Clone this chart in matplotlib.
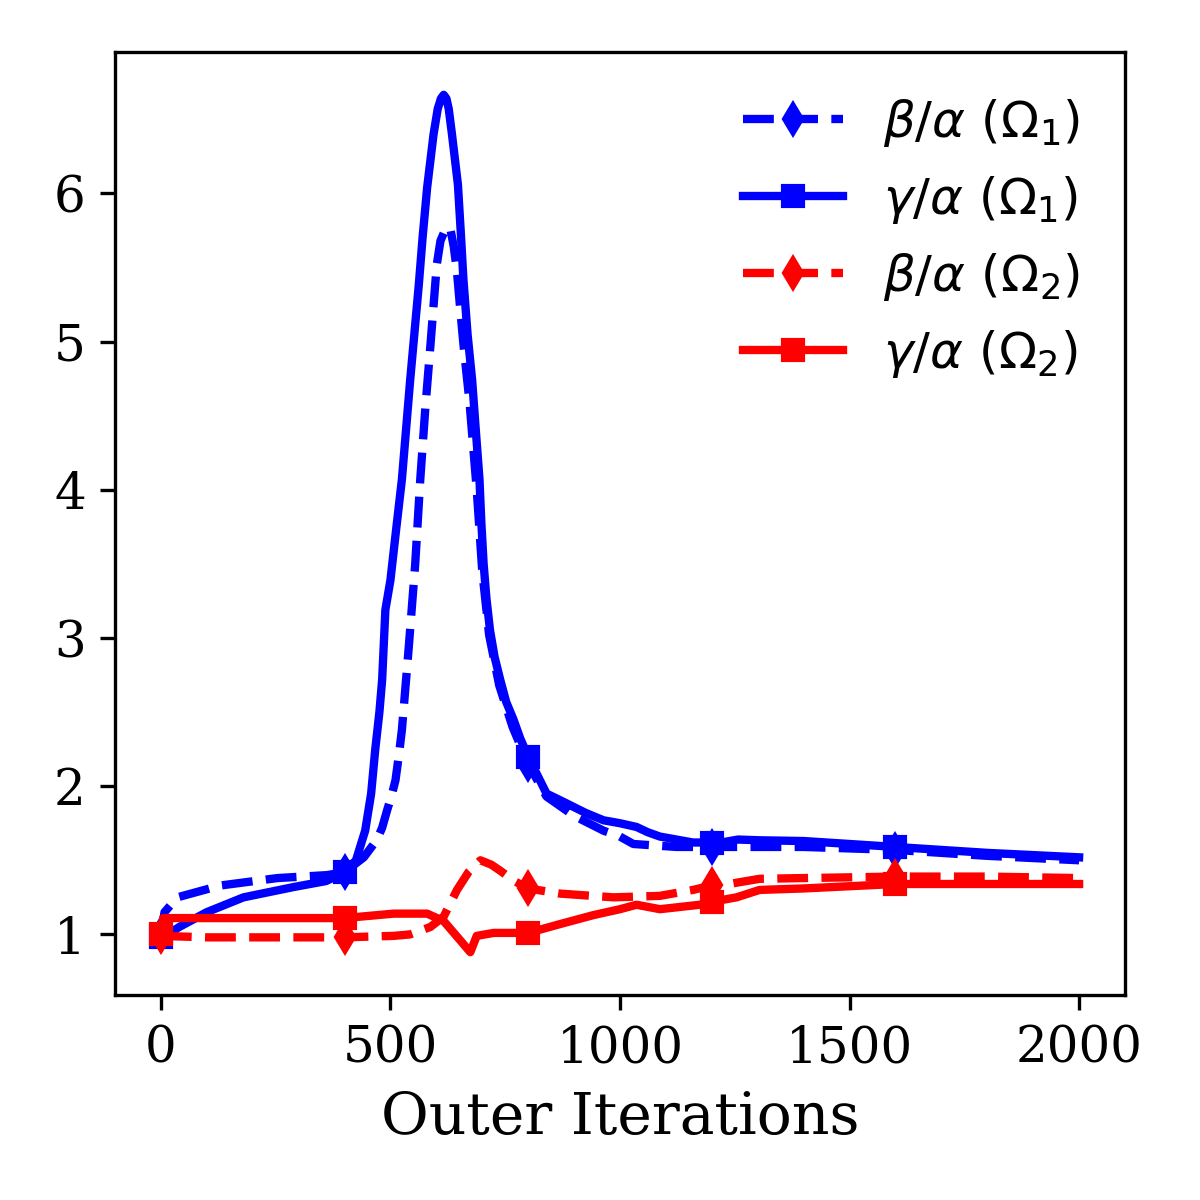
import numpy as np
import matplotlib
matplotlib.use("Agg")
import matplotlib.pyplot as plt

plt.rcParams["font.family"] = "serif"

# beta/alpha on Omega_1 (dashed, diamonds)
b1_x = [0, 8, 36, 130, 254, 362, 400, 442, 471, 482, 493, 502, 511, 518, 525,
        540, 554, 565, 576, 587, 601, 609, 620, 630, 638, 645, 652, 660, 672,
        688, 700, 715, 737, 766, 800, 840, 900, 964, 1000, 1029, 1123, 1200,
        1400, 1600, 1800, 2000]
b1_y = [1.0, 1.15, 1.25, 1.33, 1.38, 1.40, 1.42, 1.52, 1.64, 1.72, 1.84, 1.93,
        2.04, 2.2, 2.38, 2.94, 3.5, 4.07, 4.55, 4.97, 5.52, 5.68, 5.76, 5.77,
        5.64, 5.47, 5.22, 4.95, 4.6, 4.0, 3.45, 3.02, 2.68, 2.40, 2.15, 1.93,
        1.80, 1.70, 1.66, 1.61, 1.59, 1.59, 1.59, 1.57, 1.53, 1.50]

# gamma/alpha on Omega_1 (solid, squares)
g1_x = [0, 15, 40, 100, 180, 290, 360, 400, 425, 445, 458, 467, 476, 482, 489,
        500, 512, 525, 543, 562, 570, 580, 594, 603, 610, 616, 622, 627, 634,
        647, 653, 659, 668, 678, 686, 694, 698, 703, 709, 717, 727, 739, 752,
        768, 783, 800, 840, 870, 925, 964, 1000, 1036, 1060, 1087, 1159, 1200,
        1230, 1257, 1304, 1400, 1600, 1800, 2000]
g1_y = [0.98, 1.0, 1.05, 1.15, 1.25, 1.32, 1.36, 1.42, 1.50, 1.70, 1.95, 2.25,
        2.50, 2.72, 3.19, 3.39, 3.72, 4.07, 4.74, 5.39, 5.70, 6.04, 6.40, 6.57,
        6.64, 6.665, 6.64, 6.57, 6.40, 6.06, 5.75, 5.42, 5.05, 4.74, 4.40, 4.07,
        3.78, 3.5, 3.27, 3.05, 2.87, 2.72, 2.57, 2.45, 2.32, 2.2, 1.95, 1.905,
        1.82, 1.77, 1.75, 1.725, 1.69, 1.66, 1.62, 1.62, 1.625, 1.64, 1.635,
        1.63, 1.59, 1.55, 1.52]

# beta/alpha on Omega_2
b2_x = [0, 100, 300, 400, 507, 543, 587, 616, 645, 670, 696, 720, 739, 770,
        800, 870, 986, 1087, 1159, 1200, 1247, 1304, 1400, 1600, 1800, 2000]
b2_y = [0.99, 0.98, 0.98, 0.98, 0.99, 1.0, 1.05, 1.12, 1.30, 1.42, 1.50, 1.47,
        1.43, 1.36, 1.31, 1.275, 1.25, 1.26, 1.30, 1.33, 1.345, 1.375, 1.38,
        1.39, 1.39, 1.38]

# gamma/alpha on Omega_2
g2_x = [0, 5, 100, 400, 507, 580, 616, 652, 674, 688, 725, 800, 870, 942,
        1000, 1036, 1087, 1174, 1200, 1254, 1304, 1400, 1600, 1800, 2000]
g2_y = [1.0, 1.11, 1.11, 1.11, 1.14, 1.14, 1.09, 0.96, 0.88, 0.99, 1.01, 1.01,
        1.07, 1.13, 1.17, 1.20, 1.17, 1.20, 1.22, 1.25, 1.30, 1.31, 1.34, 1.34,
        1.34]

labels = [r"$\beta/\alpha\ (\Omega_1)$", r"$\gamma/\alpha\ (\Omega_1)$",
          r"$\beta/\alpha\ (\Omega_2)$", r"$\gamma/\alpha\ (\Omega_2)$"]


def marks(xs):
    return [i for i, v in enumerate(xs) if v % 400 == 0 and v < 2000]


fig = plt.figure(figsize=(4, 4), dpi=300)
ax = fig.add_axes([0.0958, 0.1708, 0.8417, 0.7859])

series = [
    (b1_x, b1_y, "b", "--", "d"),
    (g1_x, g1_y, "b", "-", "s"),
    (b2_x, b2_y, "r", "--", "d"),
    (g2_x, g2_y, "r", "-", "s"),
]
for (xs, ys, c, ls, m), lab in zip(series, labels):
    ax.plot(xs, ys, color=c, linestyle=ls, marker=m, markersize=5,
            lw=2, markevery=marks(xs), label=lab)

ax.set_xticks([0, 500, 1000, 1500, 2000])
ax.set_yticks([1, 2, 3, 4, 5, 6])
ax.tick_params(labelsize=12)
ax.set_xlabel("Outer Iterations", fontsize=14)
ax.legend(loc="upper right", frameon=False, fontsize=12)

fig.savefig("out.png", dpi=300)
